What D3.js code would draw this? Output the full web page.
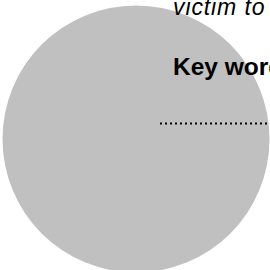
<!DOCTYPE html>
<head>
  <meta charset="utf-8">
  <script src="https://cdnjs.cloudflare.com/ajax/libs/d3/7.8.5/d3.min.js"></script>
  <style>
    body { margin:0; background:#fff; }
    #vis { width: 270px; height: 270px; overflow: hidden; }
    text { font-family: "Liberation Sans", Arial, sans-serif; }
  </style>
</head>

<body>
  <div id="vis"></div>

  <script>
    // one bubble, with its annotation
    var names = ["victim to"];
    var values = [100];
    var keyLabels = ["Key word"];

    var width = 270, height = 270;

    var svg = d3.select("#vis").append("svg")
      .attr("width", width)
      .attr("height", height);

    var r = d3.scaleSqrt()
      .domain([0, d3.max(values)])
      .range([0, 133.5]);

    var cx = 136, cy = 139;

    svg.selectAll("circle.bubble")
      .data(values)
      .enter().append("circle")
      .attr("class", "bubble")
      .attr("cx", cx)
      .attr("cy", cy)
      .attr("r", function(d) { return r(d); })
      .style("fill", "#c0c0c0");

    // leader line
    svg.append("line")
      .attr("x1", 160)
      .attr("x2", width)
      .attr("y1", 123.5)
      .attr("y2", 123.5)
      .style("stroke", "#000")
      .style("stroke-width", 2)
      .style("stroke-dasharray", "2,3");

    svg.selectAll("text.name")
      .data(names)
      .enter().append("text")
      .attr("class", "name")
      .attr("x", 173)
      .attr("y", 14.5)
      .style("font-size", "23px")
      .style("letter-spacing", "0.9px")
      .style("font-style", "italic")
      .style("fill", "#000")
      .text(function(d) { return d; });

    svg.selectAll("text.key")
      .data(keyLabels)
      .enter().append("text")
      .attr("class", "key")
      .attr("x", 173)
      .attr("y", 75)
      .style("font-size", "24.5px")
      .style("font-weight", "bold")
      .style("fill", "#000")
      .text(function(d) { return d; });
  </script>
</body>
